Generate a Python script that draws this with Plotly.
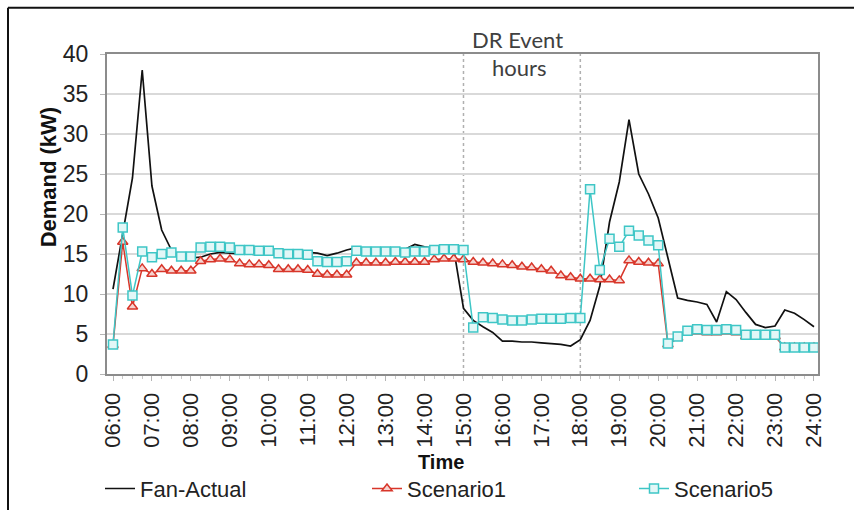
import plotly.graph_objects as go

# 15-minute steps from 06:00 to 24:00 (index -> hour of day)
step_hours = [6 + 0.25 * i for i in range(73)]

hour_ticks = [6, 7, 8, 9, 10, 11, 12, 13, 14, 15, 16, 17, 18, 19, 20, 21, 22, 23, 24]
hour_labels = ["06:00", "07:00", "08:00", "09:00", "10:00", "11:00", "12:00", "13:00",
               "14:00", "15:00", "16:00", "17:00", "18:00", "19:00", "20:00", "21:00",
               "22:00", "23:00", "24:00"]

fan_actual = [10.6, 17.5, 24.5, 38.0, 23.5, 18.0, 15.5, 14.5, 14.5, 14.6,
              15.0, 15.2, 15.1, 15.0, 15.0, 14.9, 15.0, 15.1, 15.0, 14.9,
              15.2, 15.1, 14.8, 15.1, 15.5, 15.8, 15.5, 15.4, 15.4, 15.4,
              15.6, 16.2, 15.9, 15.7, 15.8, 15.6, 8.2, 6.7, 5.9, 5.2,
              4.1, 4.1, 4.0, 4.0, 3.9, 3.8, 3.7, 3.5, 4.3, 6.7,
              11.0, 19.0, 24.0, 31.8, 25.0, 22.5, 19.5, 14.5, 9.5, 9.2,
              9.0, 8.7, 6.5, 10.3, 9.3, 7.7, 6.2, 5.8, 6.0, 8.0,
              7.6, 6.8, 5.9]

scenario1 = [3.6, 16.5, 8.4, 13.2, 12.5, 13.1, 12.9, 12.9, 12.9, 14.1,
             14.3, 14.4, 14.3, 13.8, 13.7, 13.7, 13.6, 13.1, 13.1, 13.1,
             13.0, 12.5, 12.4, 12.4, 12.4, 13.9, 13.9, 13.9, 13.9, 14.0,
             14.0, 14.0, 14.0, 14.3, 14.4, 14.4, 14.3, 14.0, 13.9, 13.8,
             13.7, 13.6, 13.4, 13.3, 13.1, 12.9, 12.3, 12.1, 11.9, 11.9,
             11.8, 11.8, 11.7, 14.2, 14.0, 13.9, 13.8, 3.7, 4.5, 5.2,
             5.3, 5.2, 5.2, 5.3, 5.2, 4.7, 4.7, 4.7, 4.7, 3.3,
             3.3, 3.3, 3.3]

scenario5 = [3.7, 18.3, 9.8, 15.3, 14.6, 15.0, 15.2, 14.7, 14.7, 15.8,
             15.9, 15.9, 15.8, 15.5, 15.5, 15.4, 15.4, 15.1, 15.0, 15.0,
             14.9, 14.1, 14.0, 14.0, 14.1, 15.4, 15.3, 15.3, 15.3, 15.3,
             15.2, 15.3, 15.3, 15.5, 15.6, 15.6, 15.5, 5.8, 7.1, 7.0,
             6.8, 6.7, 6.7, 6.8, 6.9, 6.9, 6.9, 7.0, 7.0, 23.1,
             13.0, 16.9, 15.9, 17.9, 17.3, 16.7, 16.1, 3.8, 4.7, 5.4,
             5.6, 5.5, 5.5, 5.6, 5.5, 4.9, 4.9, 4.9, 4.9, 3.3,
             3.3, 3.3, 3.3]

dr_start, dr_end = 15, 18

W, H = 854, 522
L, R, T, B = 107, 818, 54, 386


def px_x(p):
    return (p - L) / (R - L)


def px_y(p):
    return (B - p) / (B - T)


FONT = "Liberation Sans, Arial, sans-serif"
RED = "#d8362a"
CYAN = "#3ec6c6"

fig = go.Figure()
fig.add_trace(go.Scatter(x=step_hours, y=fan_actual, name="Fan-Actual", mode="lines",
                         line=dict(color="#111111", width=1.7), legendwidth=222))
fig.add_trace(go.Scatter(x=step_hours, y=scenario1, name="Scenario1", mode="lines+markers",
                         line=dict(color=RED, width=1.5), legendwidth=222,
                         marker=dict(symbol="triangle-up", size=9, color="#f6d3cf",
                                     line=dict(color=RED, width=1.5))))
fig.add_trace(go.Scatter(x=step_hours, y=scenario5, name="Scenario5", mode="lines+markers",
                         line=dict(color=CYAN, width=1.5), legendwidth=110,
                         marker=dict(symbol="square", size=9, color="#e2f7f7",
                                     line=dict(color=CYAN, width=1.5))))

# DR event boundaries
for xv in (dr_start, dr_end):
    fig.add_shape(type="line", xref="x", yref="y", x0=xv, x1=xv, y0=0, y1=40,
                  line=dict(color="#b0b0b0", width=1.5, dash="dot"), layer="below")

# outer frame (top and left edges)
fig.add_shape(type="line", xref="paper", yref="paper", x0=px_x(8), x1=px_x(W + 5),
              y0=px_y(6), y1=px_y(6), line=dict(color="#111111", width=2))
fig.add_shape(type="line", xref="paper", yref="paper", x0=px_x(8), x1=px_x(8),
              y0=px_y(6), y1=px_y(H + 5), line=dict(color="#111111", width=2))

ann = dict(xref="paper", yref="paper", showarrow=False, xanchor="center", yanchor="middle")
fig.add_annotation(text="DR Event", x=px_x(517), y=px_y(39),
                   font=dict(family="Lato, sans-serif", size=22, color="#404040"), **ann)
fig.add_annotation(text="hours", x=px_x(519), y=px_y(68),
                   font=dict(family="Lato, sans-serif", size=22, color="#404040"), **ann)
fig.add_annotation(text="<b>Demand (kW)</b>", x=px_x(48), y=px_y(182), textangle=-90,
                   font=dict(family=FONT, size=22, color="#111111"), **ann)
fig.add_annotation(text="<b>Time</b>", x=px_x(441), y=px_y(477), borderpad=0,
                   font=dict(family=FONT, size=20, color="#111111"), **ann)

fig.update_layout(
    width=W, height=H,
    margin=dict(l=L, r=W - R, t=T, b=H - B),
    paper_bgcolor="white", plot_bgcolor="white",
    font=dict(family=FONT, size=22, color="#222222"),
    showlegend=True,
    legend=dict(orientation="h", x=px_x(100), y=px_y(505), xanchor="left", yanchor="middle",
                font=dict(family=FONT, size=22, color="#222222"),
                bgcolor="rgba(0,0,0,0)", itemclick=False, itemdoubleclick=False),
    xaxis=dict(range=[5.846, 24.103], tickmode="array", tickvals=hour_ticks, ticktext=hour_labels,
               tickangle=-90, showgrid=False, zeroline=False,
               showline=True, linecolor="#8c8c8c", linewidth=2, mirror=True,
               ticks="outside", ticklen=5, tickcolor="#b5b5b5", ticklabelstandoff=3,
               minor=dict(dtick=0.25, tick0=6, ticks="outside", ticklen=3, tickcolor="#c8c8c8",
                          showgrid=False),
               tickfont=dict(size=22, family=FONT, color="#222222")),
    yaxis=dict(range=[0, 40], dtick=5, showgrid=True, gridcolor="#d9d9d9", gridwidth=1.5,
               zeroline=False, showline=True, linecolor="#8c8c8c", linewidth=2, mirror=True,
               ticks="outside", ticklen=5, tickcolor="#b5b5b5", ticklabelstandoff=7,
               tickfont=dict(size=23, family=FONT, color="#222222")),
)

fig.write_html("out.html", post_script="document.body.style.margin='0';",
               config={"displayModeBar": False})
